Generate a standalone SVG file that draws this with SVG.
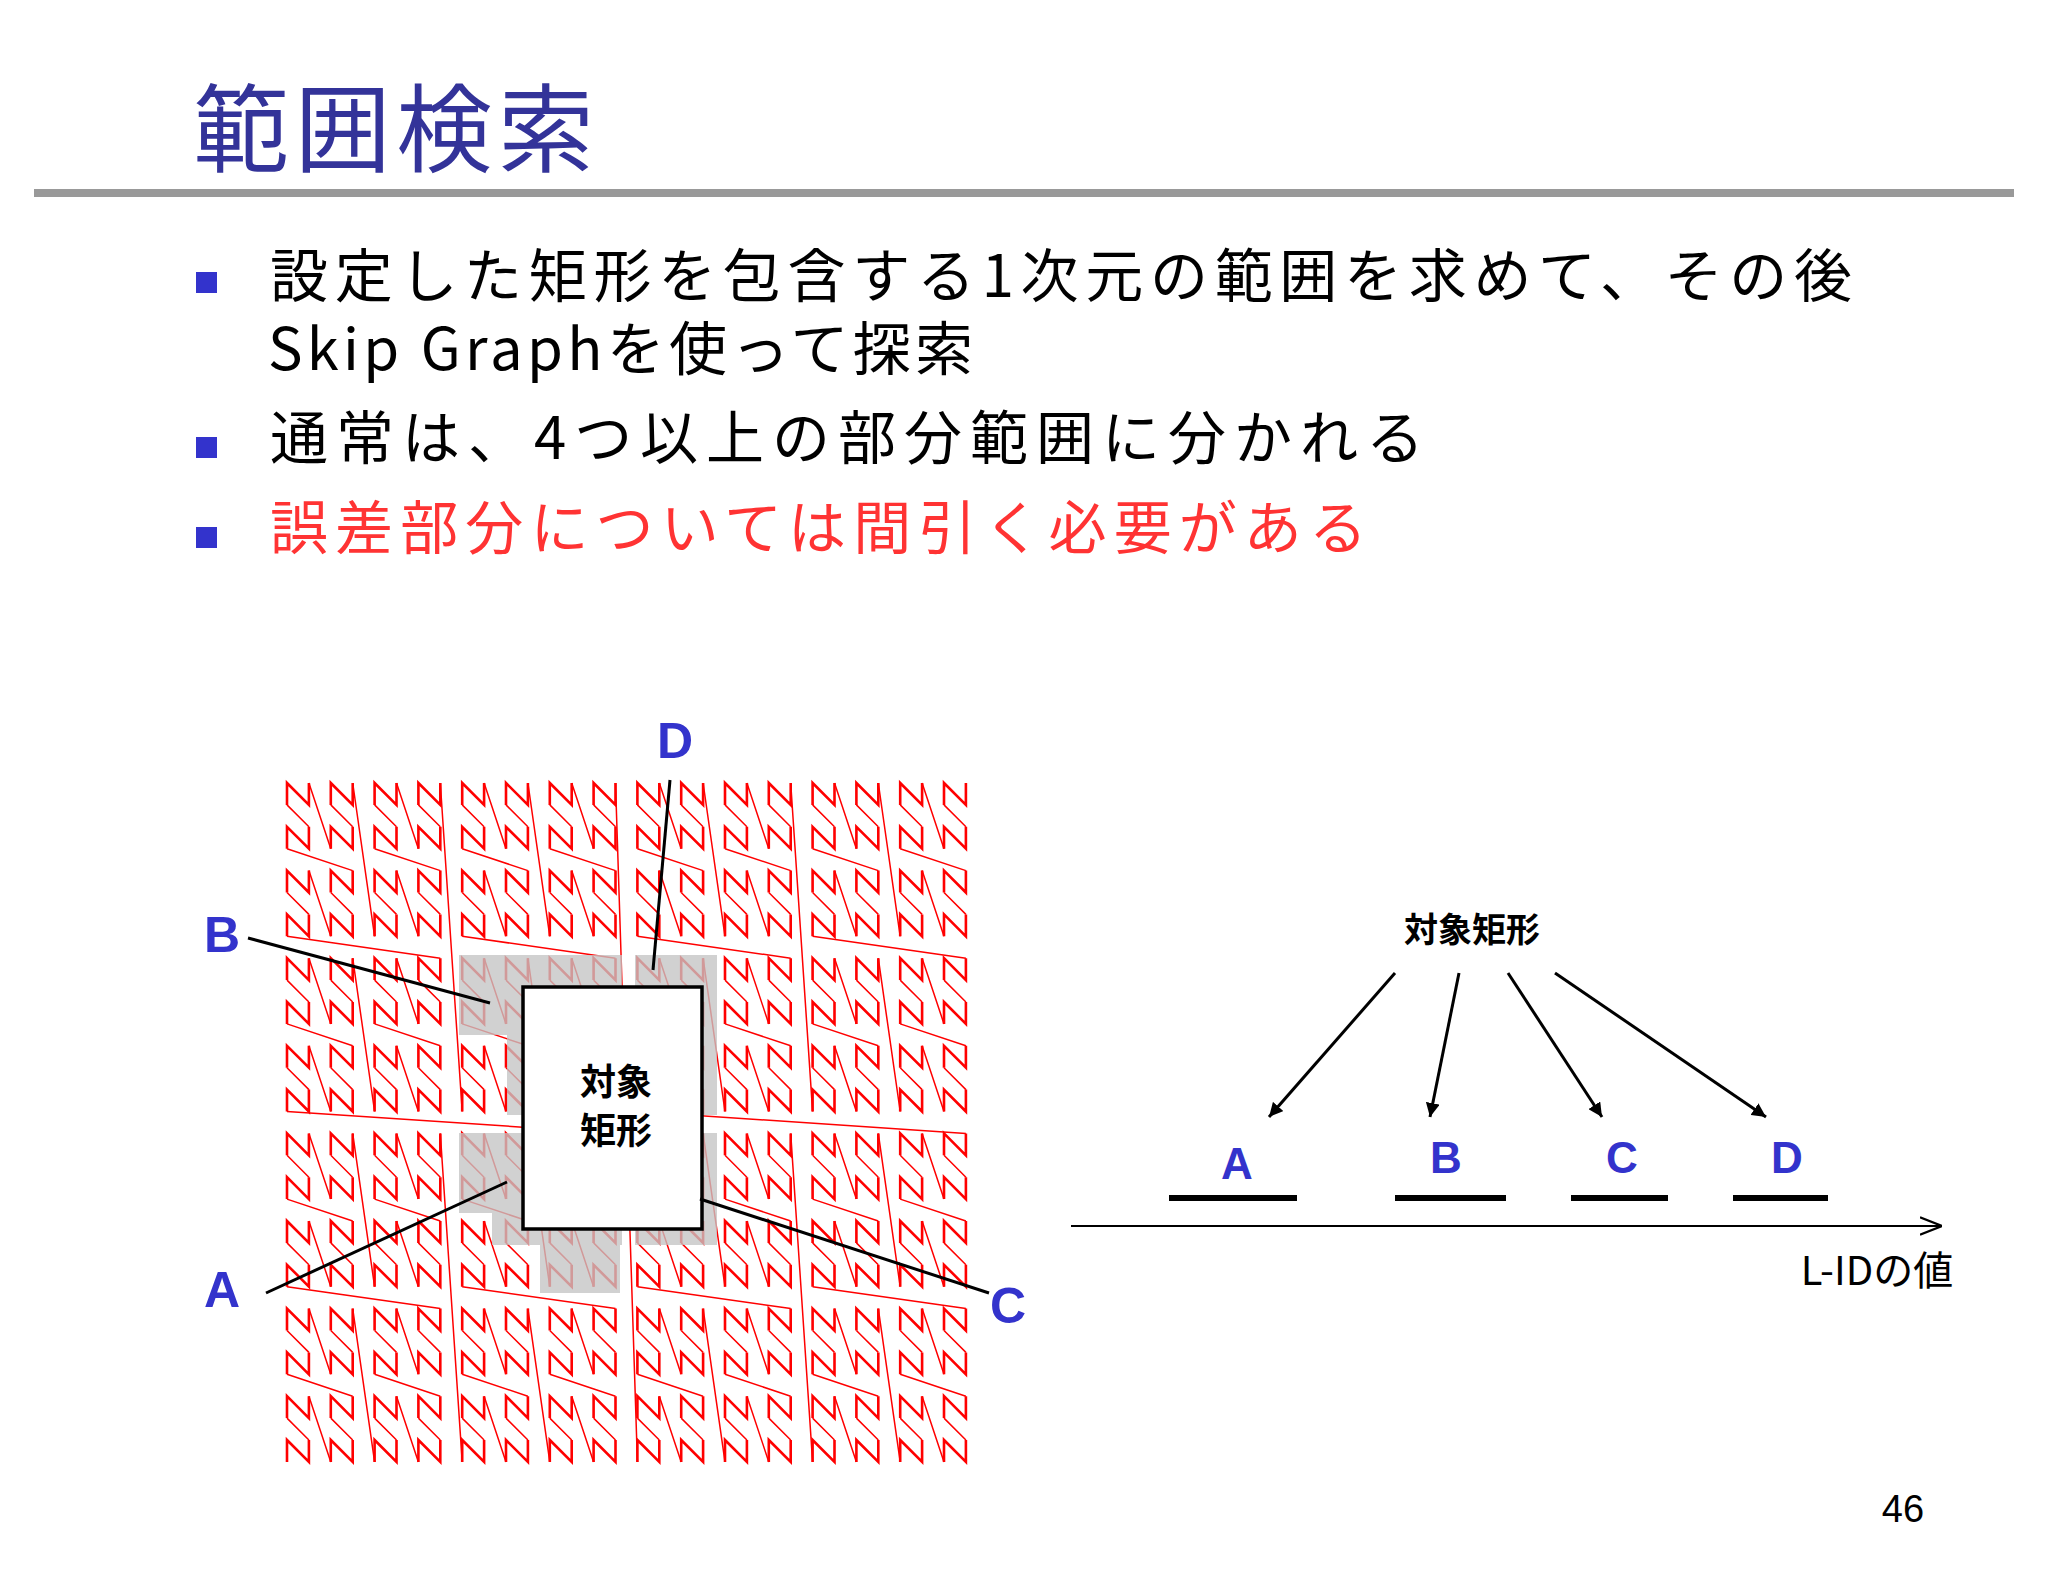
<svg xmlns="http://www.w3.org/2000/svg" xmlns:xlink="http://www.w3.org/1999/xlink" width="2048" height="1582" viewBox="0 0 2048 1582">
<style>
.jp{font-family:"Noto Sans CJK JP","Noto Sans",sans-serif}
.lab{font-family:"Liberation Sans",Arial,sans-serif;font-weight:bold;fill:#3333cc}
.n{fill:none;stroke:#ff0000;stroke-width:2.6}
.c{fill:none;stroke:#ff0000;stroke-width:1.5}
.ln{stroke:#000;stroke-width:3;fill:none}
</style>
<defs>
<marker id="ah" viewBox="0 0 10 10" refX="10" refY="5" markerWidth="14" markerHeight="14" markerUnits="userSpaceOnUse" orient="auto"><path d="M0,0 L10,5 L0,10 z" fill="#000"/></marker>
<marker id="oa" viewBox="0 0 10 10" refX="10" refY="5" markerWidth="22" markerHeight="22" markerUnits="userSpaceOnUse" orient="auto"><path d="M0,1 L10,5 L0,9" fill="none" stroke="#000" stroke-width="1"/></marker>
<path id="L1" class="n" d="M0,21.9 L0,0 L21.9,21.9 L21.9,0"/>
<g id="L2"><use xlink:href="#L1" x="0" y="43.8"/><use xlink:href="#L1"/><use xlink:href="#L1" x="43.8" y="43.8"/><use xlink:href="#L1" x="43.8" y="0"/><path class="c" d="M21.9,43.8 L0,21.9 M21.9,0 L43.8,65.7 M65.7,43.8 L43.8,21.9"/></g>
<g id="L3"><use xlink:href="#L2" x="0" y="87.6"/><use xlink:href="#L2"/><use xlink:href="#L2" x="87.6" y="87.6"/><use xlink:href="#L2" x="87.6" y="0"/><path class="c" d="M65.7,87.6 L0,65.7 M65.7,0 L87.6,153.3 M153.3,87.6 L87.6,65.7"/></g>
<g id="L4"><use xlink:href="#L3" x="0" y="175.2"/><use xlink:href="#L3"/><use xlink:href="#L3" x="175.2" y="175.2"/><use xlink:href="#L3" x="175.2" y="0"/><path class="c" d="M153.3,175.2 L0,153.3 M153.3,0 L175.2,328.5 M328.5,175.2 L175.2,153.3"/></g>
<g id="L5"><use xlink:href="#L4" x="0" y="350.4"/><use xlink:href="#L4"/><use xlink:href="#L4" x="350.4" y="350.4"/><use xlink:href="#L4" x="350.4" y="0"/><path class="c" d="M328.5,350.4 L0,328.5 M328.5,0 L350.4,678.9 M678.9,350.4 L350.4,328.5"/></g>
</defs>
<rect width="2048" height="1582" fill="#fff"/>
<g id="title">
<text x="193" y="164" class="jp" font-size="96" fill="#333399" textLength="401">範囲検索</text>
<rect x="34" y="189" width="1980" height="8" fill="#999"/>
</g>
<g id="bullets" class="jp" font-size="58">
<rect x="196" y="272" width="21" height="21" fill="#3333cc"/>
<rect x="196" y="437" width="21" height="21" fill="#3333cc"/>
<rect x="196" y="527" width="21" height="21" fill="#3333cc"/>
<text x="270" y="297" fill="#000" textLength="1582">設定した矩形を包含する1次元の範囲を求めて、その後</text>
<text x="268" y="370" fill="#000" textLength="705">Skip Graphを使って探索</text>
<text x="270" y="459" fill="#000" textLength="1154">通常は、4つ以上の部分範囲に分かれる</text>
<text x="270" y="549" fill="#ff3333" textLength="1097">誤差部分については間引く必要がある</text>
</g>
<g id="zcurve" transform="translate(287,783)"><use xlink:href="#L5"/></g>
<path id="ranges" fill="#c4c4c4" fill-opacity="0.78" d="M459,955 H622 V1035 H459 Z M507,1035 H622 V1115 H507 Z M635,955 H717 V1115 H635 Z M459,1133 H522 V1213 H459 Z M492,1163 H622 V1245 H492 Z M540,1245 H620 V1293 H540 Z M635,1133 H717 V1245 H635 Z"/>
<g id="target">
<rect x="523" y="987" width="179" height="242" fill="#fff" stroke="#000" stroke-width="3.5"/>
<text x="616" y="1095" class="jp" font-size="36" font-weight="bold" text-anchor="middle">対象</text>
<text x="616" y="1144" class="jp" font-size="36" font-weight="bold" text-anchor="middle">矩形</text>
</g>
<g id="leaders">
<line class="ln" x1="670" y1="780" x2="653" y2="970"/>
<line class="ln" x1="248" y1="938" x2="490" y2="1003"/>
<line class="ln" x1="266" y1="1293" x2="507" y2="1182"/>
<line class="ln" x1="989" y1="1293" x2="700" y2="1199"/>
</g>
<g id="labels-left" class="lab" font-size="50">
<text x="675" y="758" text-anchor="middle">D</text>
<text x="222" y="952" text-anchor="middle">B</text>
<text x="222" y="1307" text-anchor="middle">A</text>
<text x="1008" y="1323" text-anchor="middle">C</text>
</g>
<g id="right">
<text x="1472" y="942" class="jp" font-size="34" font-weight="bold" text-anchor="middle">対象矩形</text>
<g class="ln" stroke-width="2" marker-end="url(#ah)">
<line x1="1395" y1="973" x2="1269" y2="1117"/>
<line x1="1459" y1="973" x2="1430" y2="1117"/>
<line x1="1508" y1="973" x2="1602" y2="1117"/>
<line x1="1555" y1="973" x2="1766" y2="1117"/>
</g>
<g stroke="#000" stroke-width="6">
<line x1="1169" y1="1198" x2="1297" y2="1198"/>
<line x1="1395" y1="1198" x2="1506" y2="1198"/>
<line x1="1571" y1="1198" x2="1668" y2="1198"/>
<line x1="1733" y1="1198" x2="1828" y2="1198"/>
</g>
<g class="lab" font-size="44" text-anchor="middle">
<text x="1237" y="1179">A</text>
<text x="1446" y="1173">B</text>
<text x="1622" y="1173">C</text>
<text x="1787" y="1173">D</text>
</g>
<line x1="1071" y1="1226" x2="1942" y2="1226" stroke="#000" stroke-width="2" marker-end="url(#oa)"/>
<text x="1877" y="1285" class="jp" font-size="40" text-anchor="middle">L-IDの値</text>
</g>
<text x="1903" y="1522" font-family="Liberation Sans,Arial,sans-serif" font-size="38" text-anchor="middle">46</text>
</svg>
